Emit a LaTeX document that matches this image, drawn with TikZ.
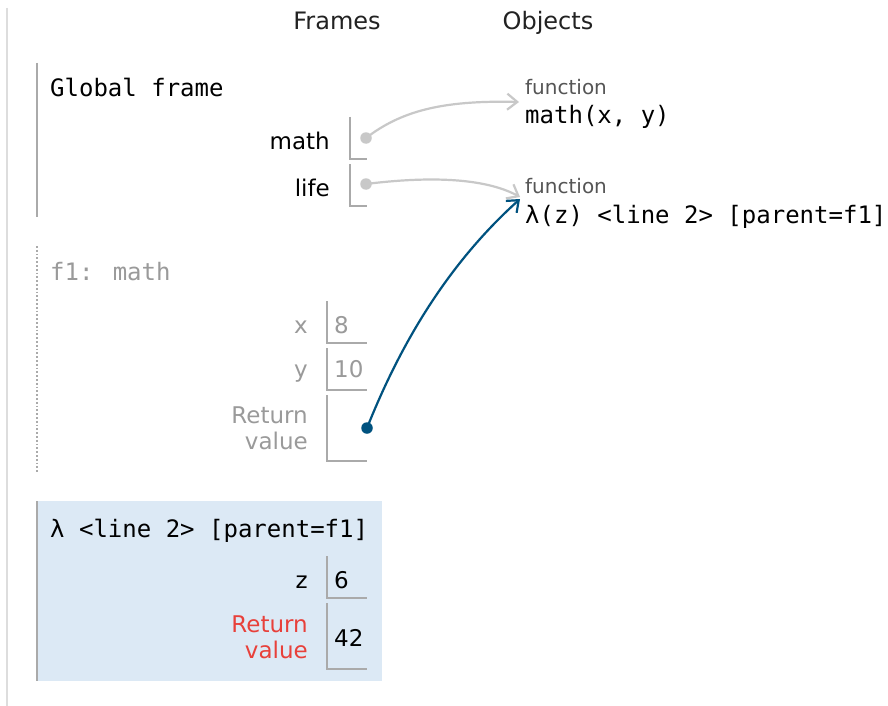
\documentclass[tikz,border=0pt]{standalone}
\usepackage{fontspec}
\setmainfont{DejaVu Sans}
\newfontfamily\monofont{DejaVu Sans Mono}
\usetikzlibrary{arrows.meta}
\definecolor{boxgray}{HTML}{AAAAAA}
\definecolor{arrgray}{HTML}{C8C8C8}
\definecolor{outergray}{HTML}{DDDDDD}
\definecolor{txtgray}{HTML}{9A9A9A}
\definecolor{fungray}{HTML}{555555}
\definecolor{ptrblue}{HTML}{00527F}
\definecolor{framebg}{HTML}{DCE9F5}
\definecolor{retred}{HTML}{E8403A}
\definecolor{hdrtext}{HTML}{222222}
\begin{document}
\begin{tikzpicture}[x=1pt,y=-1pt,
 mono/.style={font=\monofont\fontsize{24}{28}\selectfont, inner sep=0pt, anchor=base west},
 lbl/.style={font=\fontsize{23}{26}\selectfont, inner sep=0pt, anchor=base east},
 val/.style={font=\fontsize{23}{26}\selectfont, inner sep=0pt, anchor=base west},
 hdr/.style={font=\fontsize{24}{28}\selectfont, text=hdrtext, inner sep=0pt, anchor=base},
 fn/.style={font=\fontsize{20}{24}\selectfont, text=fungray, inner sep=0pt, anchor=base west},
 cell/.style={draw=boxgray, line width=2pt},
 bar/.style={draw=boxgray, line width=2.5pt},
 ptr/.style={line width=2.2pt, -{Straight Barb[length=10pt,width=16pt,line width=2.2pt]}},
 dotp/.style={circle, inner sep=0pt, minimum size=11.5pt}
]
\useasboundingbox[fill=white] (0,0) rectangle (888,706);
% outer left line
\draw[outergray, line width=2pt] (7,8) -- (7,706);
% headers
\node[hdr] (hframes) at (337,30) {Frames};
\node[hdr] (hobjects) at (548,30) {Objects};

% Global frame
\draw[bar] (37,63) -- (37,217);
\node[mono] (gtitle) at (50,97) {Global frame};
\node[lbl] (lmath) at (330,149) {math};
\draw[cell] (350,117) -- (350,159) -- (367,159);
\node[lbl] (llife) at (330,196) {life};
\draw[cell] (350,164) -- (350,206) -- (367,206);
\node[dotp, fill=arrgray] (mdot) at (366,138) {};
\node[dotp, fill=arrgray] (ldot) at (366,184) {};

% Objects
\node[fn] (fun1) at (525,95) {function};
\node[mono] (fmath) at (525,124) {math(x, y)};
\node[fn] (fun2) at (525,193) {function};
\node[mono] (flam) at (525,223) {λ(z) <line 2> [parent=f1]};
\coordinate (mtip) at (519,102);
\coordinate (ltip) at (520,197);
\coordinate (btip) at (520,199);

% f1 frame
\draw[boxgray, line width=1.8pt, dotted] (37,246) -- (37,472);
\node[mono, text=txtgray] (f1title) at (50,280) {f1: math};
\node[lbl, text=txtgray] (lx) at (308,333) {x};
\draw[cell] (327,301) -- (327,343) -- (367,343);
\node[val, text=txtgray] (vx) at (334,333) {8};
\node[lbl, text=txtgray] (ly) at (308,377) {y};
\draw[cell] (327,348) -- (327,390) -- (367,390);
\node[val, text=txtgray] (vy) at (334,377) {10};
\node[lbl, text=txtgray] (lret1) at (308,423) {Return};
\node[lbl, text=txtgray] (lret1b) at (308,449) {value};
\draw[cell] (327,395) -- (327,461) -- (367,461);
\node[dotp, fill=ptrblue] (bdot) at (367,428) {};

% lambda frame
\fill[framebg] (37,501) rectangle (382,681);
\draw[bar] (37,501) -- (37,681);
\node[mono] (ltitle) at (50,537) {λ <line 2> [parent=f1]};
\node[lbl] (lz) at (308,588) {z};
\draw[cell] (327,556) -- (327,598) -- (367,598);
\node[val] (vz) at (334,588) {6};
\node[lbl, text=retred] (lret2) at (308,632) {Return};
\node[lbl, text=retred] (lret2b) at (308,658) {value};
\draw[cell] (327,603) -- (327,669) -- (367,669);
\node[val] (vret) at (334,646) {42};

% pointers
\draw[ptr, arrgray] (mdot.center) .. controls (400,112) and (440,100) .. (mtip);
\draw[ptr, arrgray] (ldot.center) .. controls (430,176) and (485,178) .. (ltip);
\draw[ptr, ptrblue] (bdot.center) .. controls (402,340) and (450,262) .. (btip);
\end{tikzpicture}
\end{document}
